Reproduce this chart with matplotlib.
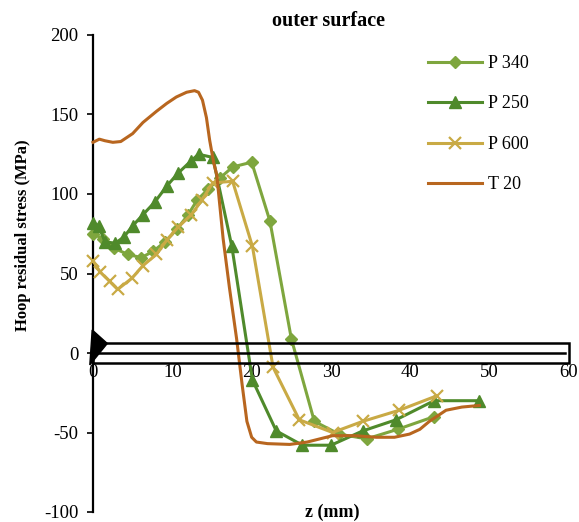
import matplotlib
matplotlib.use("Agg")
import matplotlib.pyplot as plt
from matplotlib.patches import Rectangle, Polygon

plt.rcParams["font.family"] = ["Liberation Serif", "DejaVu Serif"]
plt.rcParams["axes.unicode_minus"] = False

# P 340 (diamonds)
p340_z = [0, 1.2, 2.6, 4.4, 6.1, 7.6, 9.1, 10.6, 12.0, 13.1, 14.5, 16.0, 17.6, 20.0, 22.3, 25.0, 27.9, 31.0, 34.5, 38.4, 43.0]
p340_s = [75, 72, 66, 62, 60, 64, 70, 78, 87, 96, 103, 110, 117, 120, 83, 9, -43, -51, -54, -48, -40]

# P 250 (triangles)
p250_z = [0, 0.7, 1.5, 2.8, 3.9, 5.0, 6.3, 7.8, 9.3, 10.7, 12.4, 13.3, 15.1, 17.5, 20.1, 23.1, 26.4, 30.0, 34.0, 38.2, 43.0, 48.6]
p250_s = [82, 80, 70, 69, 73, 80, 87, 95, 105, 113, 121, 125, 123, 67, -17, -49, -58, -58, -49, -42, -30, -30]

# P 600 (crosses)
p600_z = [0, 0.9, 2.1, 3.1, 4.9, 6.3, 8.0, 9.3, 10.7, 12.4, 13.7, 15.1, 17.6, 20.1, 22.7, 26.0, 30.2, 34.0, 38.6, 43.3]
p600_s = [58, 51, 45, 40, 47, 55, 62, 71, 79, 87, 96, 107, 108, 67, -9, -42, -50, -43, -36, -27]

# T 20 (line only)
t20_z = [0, 0.8, 1.5, 2.5, 3.5, 5.0, 6.3, 8.0, 9.3, 10.5, 11.8, 12.8, 13.3, 13.8, 14.3, 14.7, 15.2, 15.6,
         16.4, 17.2, 18.1, 18.8, 19.4, 20.0, 20.6, 22.0, 24.8, 27.0, 30.2, 33.0, 35.7, 38.0, 39.9, 41.2,
         42.4, 44.5, 46.5, 48.7]
t20_s = [132.5, 134.5, 133.5, 132.5, 133, 138, 145, 152, 157, 161, 164, 165, 164, 159, 148, 134, 120, 112,
         72, 41, 9, -20, -43, -53, -56, -57, -57.5, -56, -52, -52, -53, -53, -51, -48,
         -43, -36, -34, -33]

# pipe sketch drawn on the z axis
pipe_length = 60
pipe_half = 6.25
wedge_z = [-0.1, 1.8, -0.4]
wedge_s = [14.5, 6.0, -7.5]

C340 = "#7ea63e"
C250 = "#4f8a2b"
C600 = "#c9aa45"
CT20 = "#b8661f"

fig = plt.figure(figsize=(5.79, 5.22), dpi=100)
ax = fig.add_axes([93 / 579, 10 / 522, 476 / 579, 477 / 522])

ax.plot(p340_z, p340_s, color=C340, lw=2.2, marker="D", ms=6.5, mfc=C340, mec=C340, label="P 340", clip_on=False, zorder=3)
ax.plot(p250_z, p250_s, color=C250, lw=2.2, marker="^", ms=9, mfc=C250, mec=C250, label="P 250", clip_on=False, zorder=3)
ax.plot(p600_z, p600_s, color=C600, lw=2.2, marker="x", ms=9, mew=1.6, mec=C600, label="P 600", clip_on=False, zorder=3)
ax.plot(t20_z, t20_s, color=CT20, lw=2.2, label="T 20", clip_on=False, zorder=3)

ax.add_patch(Rectangle((0, -pipe_half), pipe_length, 2 * pipe_half, fill=False, ec="black", lw=1.8, zorder=5, clip_on=False))
ax.add_patch(Polygon(list(zip(wedge_z, wedge_s)), closed=True, fc="black", ec="black", zorder=6, clip_on=False))

ax.set_xlim(0, 60)
ax.set_ylim(-100, 200)
ax.set_xticks(range(0, 61, 10))
ax.set_yticks(range(-100, 201, 50))

ax.spines["top"].set_visible(False)
ax.spines["right"].set_visible(False)
ax.spines["bottom"].set_position(("data", 0))
ax.spines["bottom"].set_bounds(0, 59.5)
ax.spines["bottom"].set_linewidth(1.8)
ax.spines["left"].set_linewidth(1.6)
ax.spines["bottom"].set_zorder(5)

ax.tick_params(axis="x", length=0, pad=8, labelsize=13.5)
ax.tick_params(axis="y", length=4.5, width=1.2, pad=6, labelsize=13.5)

ax.set_ylabel("Hoop residual stress (MPa)", fontsize=12, fontweight="bold")
ax.yaxis.set_label_coords(-0.13, 0.58)
ax.text(0.503, 0.0, "z (mm)", transform=ax.transAxes, ha="center", va="center", fontsize=13, fontweight="bold")
fig.text(329 / 579, 1 - 21 / 522, "outer surface", ha="center", va="center", fontsize=14.5, fontweight="bold")

ax.legend(loc="upper left", bbox_to_anchor=(428 / 579, 1 - 55 / 522), bbox_transform=fig.transFigure,
          frameon=False, fontsize=13, handlelength=3, handletextpad=0.3, labelspacing=1.3, borderpad=0,
          borderaxespad=0)

fig.savefig("out.png", dpi=100)
